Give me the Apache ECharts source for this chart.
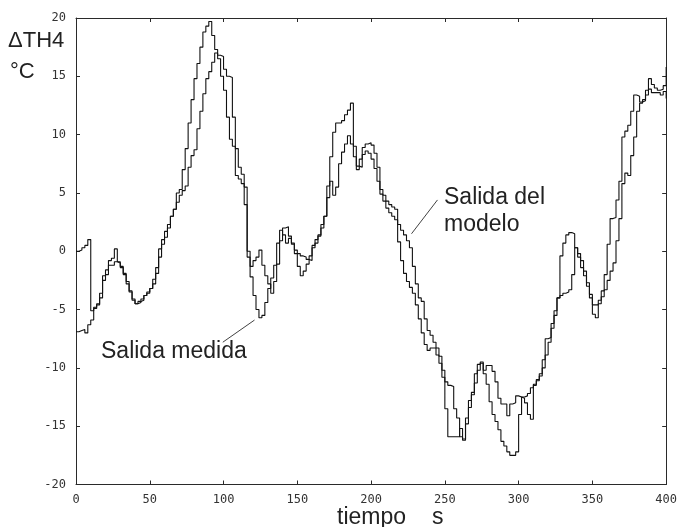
<!DOCTYPE html>
<html>
<head>
<meta charset="utf-8">
<script src="https://cdn.jsdelivr.net/npm/echarts@6/dist/echarts.min.js"></script>
<style>
  html, body { margin: 0; padding: 0; background: #fff; }
  #chart { width: 680px; height: 527px; }
</style>
</head>
<body>
<div id="chart"></div>
<script>
// Sample period of both records, seconds
const dt = 2;

// Axis ticks
const xTicks = [0, 50, 100, 150, 200, 250, 300, 350, 400];
const yTicks = [-20, -15, -10, -5, 0, 5, 10, 15, 20];

// Measured ΔTH4 (°C), one value every dt seconds from t = 0 to t = 400
const salidaMedida = [
  -6.9, -6.8, -6.7, -7.0, -6.3, -5.9, -4.8, -4.5, -3.6, -2.1,
  -1.6, -0.8, -0.6, 0.2, -0.9, -1.3, -1.9, -2.6, -3.4, -4.1,
  -4.5, -4.4, -4.1, -3.8, -3.5, -3.2, -2.4, -1.4, 0.2, 1.0,
  1.7, 2.3, 3.0, 3.6, 5.0, 5.3, 7.0, 8.8, 11.0, 13.0,
  14.8, 16.1, 17.5, 18.8, 19.3, 19.7, 18.5, 17.3, 16.5, 15.0,
  13.8, 11.5, 9.6, 9.0, 6.5, 6.2, 5.8, 4.0, -0.5, -2.2,
  -3.8, -5.0, -5.7, -5.5, -4.4, -3.2, -2.3, -1.2, 0.7, 1.8,
  1.4, 0.7, 1.1, 0.6, 0.1, -0.2, -0.4, -0.5, -0.7, -0.8,
  0.5, 0.7, 1.3, 2.0, 3.0, 5.6, 8.1, 10.2, 11.0, 11.0,
  11.2, 11.7, 12.1, 12.7, 9.0, 7.0, 7.9, 8.9, 9.2, 9.3,
  9.1, 8.4, 7.2, 5.3, 4.8, 4.3, 4.0, 3.8, 3.6, 0.8,
  -0.8, -1.9, -2.6, -3.1, -3.6, -4.6, -5.8, -7.0, -8.0, -8.5,
  -8.3, -8.3, -8.9, -9.6, -10.8, -13.5, -15.9, -15.9, -15.9, -15.9,
  -15.2, -16.1, -14.3, -12.8, -12.1, -10.5, -9.7, -9.5, -10.5, -11.4,
  -12.9, -14.0, -14.6, -15.3, -16.3, -16.7, -17.2, -17.5, -17.5, -17.2,
  -14.0, -12.5, -12.4, -12.2, -11.7, -11.4, -11.0, -10.5, -9.3, -7.5,
  -7.4, -6.6, -5.5, -4.0, -0.4, 0.7, 1.4, 1.6, 1.5, 0.3,
  -0.5, -1.4, -2.1, -3.0, -4.0, -4.6, -4.6, -4.2, -3.4, -2.0,
  0.6, 2.8, 2.9, 4.4, 6.0, 9.8, 10.3, 10.8, 12.0, 13.4,
  13.3, 12.8, 12.9, 13.8, 14.8, 14.3, 14.0, 13.8, 13.9, 14.2,
  15.8
];

// Model output ΔTH4 (°C), same sample times
const salidaModelo = [
  0.0, 0.1, 0.3, 0.5, 1.0, -5.1, -4.9, -4.6, -4.0, -2.5,
  -2.0, -1.2, -1.2, -0.9, -1.0, -1.4, -2.0, -2.8, -3.5, -4.2,
  -4.5, -4.3, -4.2, -3.8, -3.6, -3.2, -2.8, -1.9, -0.5, 0.6,
  1.2, 2.0, 3.0, 3.6, 4.2, 4.8, 5.2, 5.6, 7.2, 8.2,
  8.7, 10.5, 12.0, 13.5, 14.8, 15.4, 16.2, 17.0, 16.8, 16.7,
  15.6, 15.0, 14.9, 11.5, 8.8, 7.2, 6.6, 5.5, 0.0, -1.3,
  -0.8, -0.5, 0.1, -1.2, -2.1, -2.8, -3.6, -2.6, -1.1, 0.9,
  2.0, 2.1, 1.3, 0.7, -0.2, -1.3, -2.1, -1.7, -1.1, -0.4,
  0.3, 1.0, 1.4, 2.3, 3.0, 4.6, 6.0, 4.8, 5.5, 7.5,
  8.5, 9.2, 9.9, 9.2, 8.1, 7.3, 7.2, 8.3, 8.6, 8.4,
  7.9, 7.1, 6.0, 4.9, 4.3, 3.7, 3.3, 3.0, 2.7, 2.3,
  1.8, 1.4, 0.9, 0.3, -1.3, -2.8, -4.0, -4.3, -5.8, -6.8,
  -7.2, -7.8, -8.3, -9.0, -10.2, -11.2, -11.5, -11.6, -13.5, -14.3,
  -15.9, -16.2, -14.8, -13.4, -12.3, -11.3, -10.2, -9.6, -10.2, -9.8,
  -9.8, -10.3, -11.2, -12.6, -13.1, -13.1, -14.1, -13.1, -13.0, -12.4,
  -12.5, -12.6, -13.0, -14.0, -14.4, -11.5, -11.1, -10.7, -10.0, -8.9,
  -7.8, -6.2, -5.1, -4.0, -3.8, -3.6, -3.5, -3.3, -2.0, 0.3,
  -0.2, -0.8, -1.7, -2.7, -3.7, -5.4, -5.7, -4.5, -3.9, -3.3,
  -2.5, -1.7, -1.0, 0.9, 2.8, 5.8, 6.7, 6.5, 8.2, 9.8,
  12.0, 12.7, 13.0, 13.4, 13.9, 13.6, 13.6, 13.6, 13.4, 13.7,
  13.1
];

function toPairs(values) {
  return values.map((v, i) => [i * dt, v]);
}

const chart = echarts.init(document.getElementById('chart'), null, { renderer: 'canvas' });

const ink = '#111';
const frame = '#2a2a2a';
const tickFont = { fontFamily: 'DejaVu Sans Mono', fontSize: 12, color: '#333' };
const textFont = 'Liberation Sans, Arial, sans-serif';

function boxAxis(extra) {
  return Object.assign({
    type: 'value',
    axisLine: { show: true, onZero: false, lineStyle: { color: frame, width: 1 } },
    axisTick: { show: true, inside: true, length: 4, lineStyle: { color: frame, width: 1 } },
    splitLine: { show: false }
  }, extra);
}

chart.setOption({
  animation: false,
  backgroundColor: '#fff',
  grid: { left: 76, right: 12.5, top: 18, bottom: 42.5, containLabel: false },
  xAxis: [
    boxAxis({ position: 'bottom', min: xTicks[0], max: xTicks[xTicks.length - 1], interval: 50,
      axisLabel: Object.assign({ margin: 9 }, tickFont) }),
    boxAxis({ position: 'top', min: xTicks[0], max: xTicks[xTicks.length - 1], interval: 50,
      axisLabel: { show: false } })
  ],
  yAxis: [
    boxAxis({ position: 'left', min: yTicks[0], max: yTicks[yTicks.length - 1], interval: 5,
      axisLabel: Object.assign({ margin: 10 }, tickFont) }),
    boxAxis({ position: 'right', min: yTicks[0], max: yTicks[yTicks.length - 1], interval: 5,
      axisLabel: { show: false } })
  ],
  series: [
    {
      name: 'Salida medida',
      type: 'line',
      step: 'end',
      data: toPairs(salidaMedida),
      showSymbol: false,
      lineStyle: { color: ink, width: 1.1 },
      markLine: {
        silent: true, symbol: ['none', 'none'], label: { show: false },
        lineStyle: { color: ink, width: 0.8, type: 'solid' },
        data: [[{ coord: [99.5, -7.8] }, { coord: [121, -5.9] }]]
      }
    },
    {
      name: 'Salida del modelo',
      type: 'line',
      step: 'end',
      data: toPairs(salidaModelo),
      showSymbol: false,
      lineStyle: { color: ink, width: 1.1 },
      markLine: {
        silent: true, symbol: ['none', 'none'], label: { show: false },
        lineStyle: { color: ink, width: 0.8, type: 'solid' },
        data: [[{ coord: [245, 4.4] }, { coord: [227.4, 1.5] }]]
      }
    }
  ],
  graphic: [
    { type: 'text', left: 8, top: 30, style: { text: 'ΔTH4', font: '22px ' + textFont, fill: '#222' } },
    { type: 'text', left: 10, top: 61, style: { text: '°C', font: '22px ' + textFont, fill: '#222' } },
    { type: 'text', left: 101, top: 340, style: { text: 'Salida medida', font: '23px ' + textFont, fill: '#222' } },
    { type: 'text', left: 444, top: 184, style: { text: 'Salida del\nmodelo', font: '23px ' + textFont, fill: '#222', lineHeight: 27 } },
    { type: 'text', left: 337, top: 506, style: { text: 'tiempo', font: '23px ' + textFont, fill: '#222' } },
    { type: 'text', left: 432, top: 506, style: { text: 's', font: '23px ' + textFont, fill: '#222' } }
  ]
});
</script>
</body>
</html>
